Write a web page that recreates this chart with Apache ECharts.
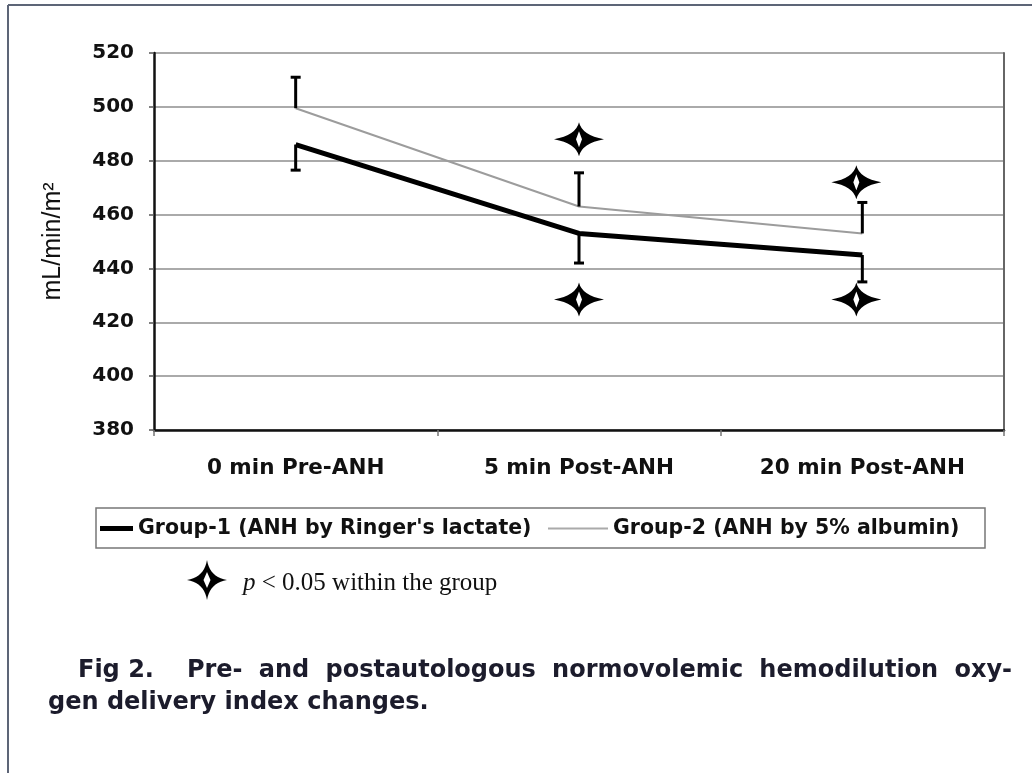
<!DOCTYPE html>
<html>
<head>
<meta charset="utf-8">
<script src="https://cdn.jsdelivr.net/npm/echarts@6/dist/echarts.min.js"></script>
<style>
html,body{margin:0;padding:0;background:#fff;}
#chart{width:1032px;height:773px;}
</style>
</head>
<body>
<div id="chart"></div>
<script>
const categories = ['0 min Pre-ANH', '5 min Post-ANH', '20 min Post-ANH'];
const yTicks = [380, 400, 420, 440, 460, 480, 500, 520];
const group1Name = "Group-1 (ANH by Ringer's lactate)";
const group2Name = 'Group-2 (ANH by 5% albumin)';
const group1Mean = [486, 453, 445];
const group1SD = [9.5, 11, 10];
const group2Mean = [499.5, 463, 453];
const group2SD = [11.5, 12.5, 11.5];
const starCategory = [1, 1, 2, 2];
const starValue = [488, 428.5, 472, 428.5];
const captionLine1 = ['Fig 2.', 'Pre-', 'and', 'postautologous', 'normovolemic', 'hemodilution', 'oxy-'];
const captionLine2 = 'gen delivery index changes.';

const STAR = 'path://M25 0 Q28 13 50 17 Q28 21 25 34 Q22 21 0 17 Q22 13 25 0 Z M25 9 L22 17 L25 25 L28 17 Z';

// sampled outline of a concave four-point star (for the note under the legend)
function starPoints(cx, cy, w, h, k) {
  const tips = [[0, -h / 2], [w / 2, 0], [0, h / 2], [-w / 2, 0]];
  const pts = [];
  for (let s = 0; s < 4; s++) {
    const a = tips[s], b = tips[(s + 1) % 4];
    const c = [(a[0] + b[0]) * k, (a[1] + b[1]) * k];
    for (let t = 0; t < 1; t += 0.1) {
      const u = 1 - t;
      pts.push([cx + u * u * a[0] + 2 * u * t * c[0] + t * t * b[0],
                cy + u * u * a[1] + 2 * u * t * c[1] + t * t * b[1]]);
    }
  }
  return pts;
}

// justified first caption line
const CAP_FONT = 'bold 24px "DejaVu Sans"';
function justifiedWords(words, x0, x1, y) {
  const ctx = document.createElement('canvas').getContext('2d');
  ctx.font = CAP_FONT;
  const sp = ctx.measureText(' ').width;
  const widths = words.map(w => ctx.measureText(w).width);
  const baseGaps = words.slice(1).map((w, i) => (i === 0 ? 3 : 1) * sp);
  const natural = widths.reduce((a, b) => a + b, 0) + baseGaps.reduce((a, b) => a + b, 0);
  const extra = (x1 - x0 - natural) / baseGaps.length;
  const out = [];
  let x = x0;
  words.forEach((w, i) => {
    out.push({type: 'text', x: x, y: y, style: {text: w, verticalAlign: 'middle', font: CAP_FONT, fill: '#1c1c2c'}});
    if (i < baseGaps.length) x += widths[i] + baseGaps[i] + extra;
  });
  return out;
}

const chart = echarts.init(document.getElementById('chart'), null, {renderer: 'canvas'});

function errorBars(means, sds, dir) {
  return means.map((m, i) => [i, m, m + dir * sds[i]]);
}

function renderErr(params, api) {
  const p0 = api.coord([api.value(0), api.value(1)]);
  const p1 = api.coord([api.value(0), api.value(2)]);
  const st = {stroke: '#000', lineWidth: 3};
  return {
    type: 'group',
    children: [
      {type: 'line', shape: {x1: p0[0], y1: p0[1], x2: p1[0], y2: p1[1]}, style: st},
      {type: 'line', shape: {x1: p1[0] - 5, y1: p1[1], x2: p1[0] + 5, y2: p1[1]}, style: st}
    ]
  };
}

const option = {
  animation: false,
  backgroundColor: '#fff',
  grid: {left: 154, right: 28, top: 53, bottom: 343, containLabel: false},
  xAxis: {
    type: 'category',
    data: categories,
    boundaryGap: true,
    axisLine: {lineStyle: {color: '#111', width: 2.5}},
    axisTick: {show: true, length: 6, lineStyle: {color: '#777', width: 1.5}},
    axisLabel: {margin: 27, fontFamily: 'DejaVu Sans', fontWeight: 'bold', fontSize: 21.5, color: '#111'},
    splitLine: {show: false}
  },
  yAxis: [{
    type: 'value',
    min: yTicks[0],
    max: yTicks[yTicks.length - 1],
    interval: 20,
    name: 'mL/min/m²',
    nameLocation: 'middle',
    nameRotate: 90,
    nameGap: 88,
    nameTextStyle: {fontFamily: 'Liberation Sans', fontSize: 25, color: '#111'},
    axisLine: {show: true, lineStyle: {color: '#111', width: 2.5}},
    axisTick: {show: true, length: 5, lineStyle: {color: '#555', width: 1.5}},
    axisLabel: {margin: 20, fontFamily: 'DejaVu Sans', fontWeight: 'bold', fontSize: 20, color: '#111'},
    splitLine: {show: true, lineStyle: {color: '#aaa', width: 1.8}}
  }, {
    type: 'value',
    position: 'right',
    min: yTicks[0],
    max: yTicks[yTicks.length - 1],
    interval: 20,
    axisLine: {show: true, lineStyle: {color: '#666', width: 2}},
    axisTick: {show: false},
    axisLabel: {show: false},
    splitLine: {show: false}
  }],
  legend: [{
    data: [group1Name],
    left: 100, top: 518, padding: 0,
    icon: 'rect', itemWidth: 33, itemHeight: 5, itemGap: 0,
    textStyle: {fontFamily: 'DejaVu Sans', fontWeight: 'bold', fontSize: 20.5, color: '#111'}
  }, {
    data: [group2Name],
    left: 548, top: 518, padding: 0,
    icon: 'rect', itemWidth: 60, itemHeight: 2, itemGap: 0,
    textStyle: {fontFamily: 'DejaVu Sans', fontWeight: 'bold', fontSize: 20.5, color: '#111'}
  }],
  graphic: [
    {type: 'line', shape: {x1: 8, y1: 5, x2: 1032, y2: 5}, style: {stroke: '#5d6577', lineWidth: 2}},
    {type: 'line', shape: {x1: 8, y1: 5, x2: 8, y2: 773}, style: {stroke: '#5d6577', lineWidth: 2}},
    {type: 'rect', shape: {x: 96, y: 508, width: 889, height: 40}, style: {fill: 'none', stroke: '#777', lineWidth: 1.5}, z: 1},
    {type: 'polygon', shape: {points: starPoints(207, 580, 40, 40, 0.14)}, style: {fill: '#000'}},
    {type: 'polygon', shape: {points: [[207, 572], [203.5, 580], [207, 588], [210.5, 580]]}, style: {fill: '#fff'}},
    {type: 'text', x: 243, y: 583, style: {
      text: '{i|p} < 0.05 within the group',
      verticalAlign: 'middle',
      font: '25px "Liberation Serif"', fill: '#111',
      rich: {i: {fontStyle: 'italic', fontFamily: 'Liberation Serif', fontSize: 25}}
    }}
  ].concat(justifiedWords(captionLine1, 78, 1012, 671)).concat([
    {type: 'text', x: 48, y: 703, style: {
      text: captionLine2,
      verticalAlign: 'middle',
      font: CAP_FONT, fill: '#1c1c2c'
    }}
  ]),
  series: [
    {
      name: group2Name, type: 'line', data: group2Mean, symbol: 'none',
      lineStyle: {color: '#9c9c9c', width: 2}, itemStyle: {color: '#aaa'}, z: 3
    },
    {
      name: group1Name, type: 'line', data: group1Mean, symbol: 'none',
      lineStyle: {color: '#000', width: 5}, itemStyle: {color: '#000'}, z: 4
    },
    {
      type: 'custom', renderItem: renderErr, data: errorBars(group1Mean, group1SD, -1),
      encode: {x: 0, y: [1, 2]}, z: 5
    },
    {
      type: 'custom', renderItem: renderErr, data: errorBars(group2Mean, group2SD, 1),
      encode: {x: 0, y: [1, 2]}, z: 5
    },
    {
      type: 'scatter', symbol: STAR, symbolSize: [50, 34],
      itemStyle: {color: '#000', opacity: 1},
      data: starCategory.map((c, i) => ({value: [c, starValue[i]], symbolOffset: [c === 2 ? -6 : 0, 0]})),
      z: 6
    }
  ]
};
chart.setOption(option);
</script>
</body>
</html>
